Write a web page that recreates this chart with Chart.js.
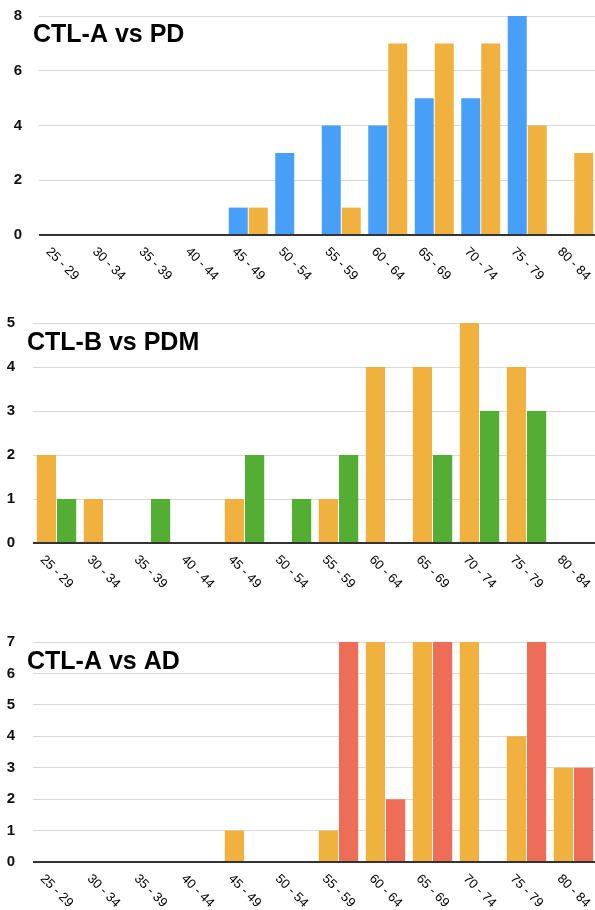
<!DOCTYPE html>
<html>
<head>
<meta charset="utf-8">
<script src="https://cdn.jsdelivr.net/npm/chart.js@4/dist/chart.umd.min.js"></script>
<style>
  html, body { margin: 0; padding: 0; background: #fff; overflow: hidden; }
  body { width: 595px; height: 910px; position: relative; }
  .box { position: absolute; left: 0; width: 597px; height: 300px; }
</style>
</head>
<body>
<div class="box" style="top:-10px"><canvas id="c1"></canvas></div>
<div class="box" style="top:296px"><canvas id="c2"></canvas></div>
<div class="box" style="top:610px"><canvas id="c3"></canvas></div>
<script>
// categorias de edad (eje x)
const edades = ['25 - 29', '30 - 34', '35 - 39', '40 - 44', '45 - 49', '50 - 54',
                '55 - 59', '60 - 64', '65 - 69', '70 - 74', '75 - 79', '80 - 84'];

// valores
const pdValores   = [0, 0, 0, 0, 1, 3, 4, 4, 5, 5, 8, 0];
const ctlAValores = [0, 0, 0, 0, 1, 0, 1, 7, 7, 7, 4, 3];
const ctlBValores = [2, 1, 0, 0, 1, 0, 1, 4, 4, 5, 4, 0];
const pdmValores  = [1, 0, 1, 0, 2, 1, 2, 0, 2, 3, 3, 0];
const adValores   = [0, 0, 0, 0, 0, 0, 7, 2, 7, 0, 7, 3];

const titulos = ['CTL-A vs PD', 'CTL-B vs PDM', 'CTL-A vs AD'];

const AZUL = '#479ff8';
const NARANJA = '#f1b13f';
const VERDE = '#54ae33';
const ROJO = '#ed6d56';

// dibuja titulo y etiquetas x giradas 45 grados
const etiquetasPlugin = {
  id: 'etiquetas',
  afterDraw(chart, args, opts) {
    const ctx = chart.ctx;
    const x = chart.scales.x;
    const area = chart.chartArea;
    ctx.save();
    ctx.fillStyle = '#000';
    ctx.font = '13px "Liberation Sans", Arial, sans-serif';
    ctx.textAlign = 'center';
    ctx.textBaseline = 'middle';
    edades.forEach((lab, i) => {
      const px = x.getPixelForTick(i);
      ctx.save();
      ctx.translate(px, area.bottom + 29);
      ctx.rotate(Math.PI / 4);
      ctx.fillText(lab, 0, 0);
      ctx.restore();
    });
    ctx.font = 'bold 25px "Liberation Sans", Arial, sans-serif';
    ctx.textAlign = 'left';
    ctx.textBaseline = 'alphabetic';
    ctx.fillText(opts.titulo, opts.tx, opts.ty);
    ctx.restore();
  }
};

function crearGrafico(id, series, cfg) {
  const ctx = document.getElementById(id).getContext('2d');
  return new Chart(ctx, {
    type: 'bar',
    data: {
      labels: edades,
      datasets: series.map(s => ({
        data: s.data,
        backgroundColor: s.color,
        borderWidth: 0,
        categoryPercentage: 0.86,
        barPercentage: 0.95
      }))
    },
    options: {
      responsive: true,
      maintainAspectRatio: false,
      animation: false,
      layout: { padding: { top: cfg.top, left: 0, right: 0, bottom: 0 } },
      plugins: {
        legend: { display: false },
        tooltip: { enabled: false },
        etiquetas: { titulo: cfg.titulo, tx: cfg.tx, ty: cfg.ty }
      },
      scales: {
        x: {
          grid: { display: false },
          border: { display: false },
          ticks: { display: false },
          afterFit: scale => { scale.height = cfg.xAlto; }
        },
        y: {
          min: 0,
          max: cfg.max,
          ticks: {
            stepSize: cfg.paso,
            padding: cfg.pad,
            color: '#111',
            font: { family: '"Liberation Sans Narrow", "Liberation Sans", Arial, sans-serif', size: 15, weight: 'bold' }
          },
          grid: {
            drawTicks: false,
            color: c => c.tick.value === 0 ? '#333' : '#d9d9d9',
            lineWidth: c => c.tick.value === 0 ? 2 : 1
          },
          border: { display: false },
          afterFit: scale => { scale.width = cfg.yAncho; }
        }
      }
    },
    plugins: [etiquetasPlugin]
  });
}

crearGrafico('c1', [{ data: pdValores, color: AZUL }, { data: ctlAValores, color: NARANJA }],
  { titulo: titulos[0], tx: 33, ty: 52, top: 25, xAlto: 55, max: 8, paso: 2, pad: 17, yAncho: 39 });

crearGrafico('c2', [{ data: ctlBValores, color: NARANJA }, { data: pdmValores, color: VERDE }],
  { titulo: titulos[1], tx: 27, ty: 54, top: 27, xAlto: 53, max: 5, paso: 1, pad: 18, yAncho: 33 });

crearGrafico('c3', [{ data: ctlAValores, color: NARANJA }, { data: adValores, color: ROJO }],
  { titulo: titulos[2], tx: 27, ty: 59, top: 32, xAlto: 48, max: 7, paso: 1, pad: 18, yAncho: 33 });
</script>
</body>
</html>
